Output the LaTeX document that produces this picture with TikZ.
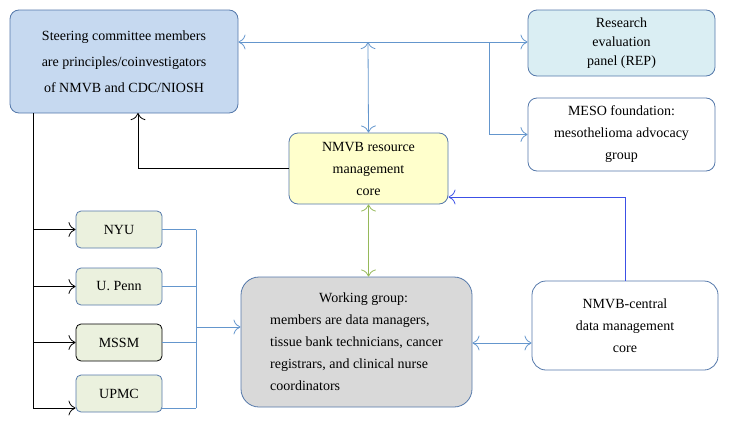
\documentclass[tikz,border=0pt]{standalone}
\usepackage{fontspec}
\setmainfont{Liberation Serif}
\usetikzlibrary{arrows.meta}
\definecolor{edge}{RGB}{84,120,170}
\definecolor{conn}{RGB}{100,150,205}
\definecolor{steerB}{RGB}{198,217,240}
\definecolor{repC}{RGB}{218,238,243}
\definecolor{coreY}{RGB}{255,255,204}
\definecolor{workG}{RGB}{217,217,217}
\definecolor{uniG}{RGB}{235,241,222}
\definecolor{linkG}{RGB}{150,185,90}
\definecolor{linkB}{RGB}{60,80,230}
\begin{document}
\begin{tikzpicture}[x=1pt,y=-1pt]
  \tikzstyle{box}=[rectangle,rounded corners=9pt,draw=edge,thick,align=center,inner sep=2pt,font=\fontsize{14}{22}\selectfont]
  \tikzstyle{uni}=[box,rounded corners=5pt,fill=uniG,minimum width=86pt,minimum height=37pt]
  \tikzstyle{blu}=[draw=conn,line width=0.8pt,{To[length=2.5mm]}-{To[length=2.5mm]}]
  \tikzstyle{every path}=[line width=0.8pt]
  \useasboundingbox (0,0) rectangle (730,423);
  \node [box,fill=steerB,minimum width=228pt,minimum height=103pt,font=\fontsize{14}{26}\selectfont] (steer) at (124,61.5) {Steering committee members\\are principles/coinvestigators\\of NMVB and CDC/NIOSH};
  \node [box,fill=repC,minimum width=187pt,minimum height=66pt,font=\fontsize{14}{19}\selectfont] (rep) at (621.5,43) {Research\\evaluation\\panel (REP)};
  \node [box,minimum width=187pt,minimum height=73pt] (meso) at (621.5,134.5) {MESO foundation:\\mesothelioma advocacy\\group};
  \node [box,fill=coreY,minimum width=159pt,minimum height=71pt] (core) at (368.5,168.5) {NMVB resource\\management\\core};
  \node [uni] (nyu)  at (119,229.5) {NYU};
  \node [uni] (penn) at (119,286.5) {U. Penn};
  \node [uni,draw=black] (mssm) at (119,342.5) {MSSM};
  \node [uni] (upmc) at (119,393.5) {UPMC};
  \node [box,fill=workG,minimum width=231pt,minimum height=130pt,rounded corners=18pt,align=left] (work) at (356.5,342) {\hspace*{3.5em}Working group:\\members are data managers,\\tissue bank technicians, cancer\\registrars, and clinical nurse\\coordinators};
  \node [box,minimum width=186pt,minimum height=89pt,rounded corners=14pt] (central) at (625,325.5) {NMVB-central\\data management\\core};
  \coordinate (split) at (368,42);
  \coordinate (bus) at (196,327);
  \draw [blu] (steer.east |- split) -- (rep.west |- split);
  \draw [blu] (split) -- (core.north);
  \draw [draw=conn,-{To[length=2.5mm]}] (489,42) |- (meso.west);
  \draw [black,-{To[length=2.5mm]}] (core.west) -| (138,113);
  \draw [{To[length=2.5mm]}-{To[length=2.5mm]},draw=linkG] (core.south) -- (work.north -| core.south);
  \draw [draw=linkB,-{To[length=2.5mm]}] (central.north) |- (core.east |- 0,197);
  \draw [blu] (work.east |- 0,343) -- (central.west |- 0,343);
  \draw [black] (33,113) -- (33,408);
  \foreach \u/\yy in {nyu/229.5,penn/286.5,mssm/342.5,upmc/408}
    \draw [black,-{To[length=2.5mm]}] (33,\yy) -- (\u.west |- 0,\yy);
  \foreach \u/\yy in {nyu/229.5,penn/286.5,mssm/342.5,upmc/408}
    \draw [draw=conn] (\u.east |- 0,\yy) -- (196,\yy);
  \draw [draw=conn] (196,229.5) -- (196,408);
  \draw [draw=conn,-{To[length=2.5mm]}] (bus) -- (work.west |- bus);
\end{tikzpicture}
\end{document}
